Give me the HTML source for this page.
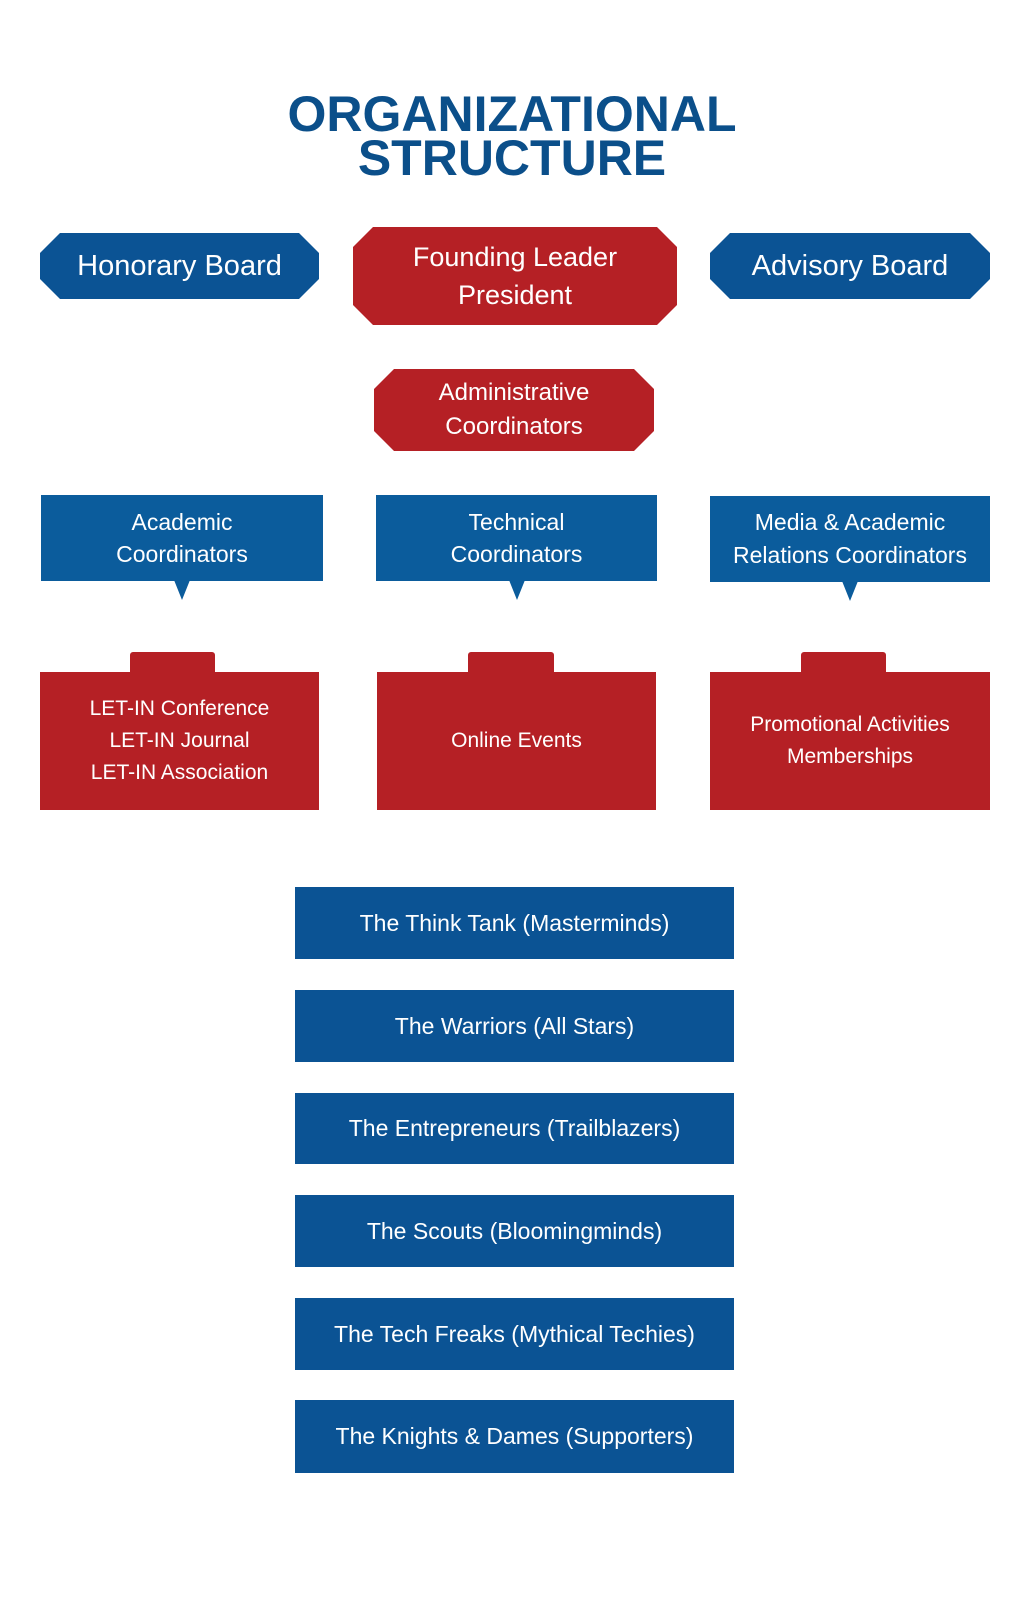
<!DOCTYPE html>
<html><head><meta charset="utf-8"><style>
body{margin:0;width:1024px;height:1600px;background:#fff;font-family:"Liberation Sans",sans-serif;position:relative;overflow:hidden}
.a{position:absolute;display:flex;align-items:center;justify-content:center;text-align:center;color:#fff}
.b{background:#0b5394}.r{background:#b52025}
.oct{clip-path:polygon(20px 0,calc(100% - 20px) 0,100% 20px,100% calc(100% - 20px),calc(100% - 20px) 100%,20px 100%,0 calc(100% - 20px),0 20px)}
.t{position:absolute;width:0;height:0;border-left:8px solid transparent;border-right:8px solid transparent;border-top:20px solid #0b5c9c}
.tab{position:absolute;background:#b52025;border-radius:3px 3px 0 0}
</style></head><body>
<div class="a" style="left:0;width:1024px;top:86px;height:100px;color:#0b4f8a;font-weight:bold;font-size:50px;line-height:44px;flex-direction:column">ORGANIZATIONAL<br>STRUCTURE</div>
<div class="a b oct" style="left:40px;top:233px;width:279px;height:66px;font-size:29px">Honorary Board</div>
<div class="a r oct" style="left:353px;top:227px;width:324px;height:98px;font-size:27px;line-height:38px">Founding Leader<br>President</div>
<div class="a b oct" style="left:710px;top:233px;width:280px;height:66px;font-size:29px">Advisory Board</div>
<div class="a r oct" style="left:374px;top:369px;width:280px;height:82px;font-size:24px;line-height:34px">Administrative<br>Coordinators</div>
<div class="a" style="left:41px;top:495px;width:282px;height:86px;background:#0b5c9c;font-size:23px;line-height:32px">Academic<br>Coordinators</div>
<div class="t" style="left:174px;top:580px"></div>
<div class="a" style="left:376px;top:495px;width:281px;height:86px;background:#0b5c9c;font-size:23px;line-height:32px">Technical<br>Coordinators</div>
<div class="t" style="left:509px;top:580px"></div>
<div class="a" style="left:710px;top:496px;width:280px;height:86px;background:#0b5c9c;font-size:23px;line-height:33px">Media &amp; Academic<br>Relations Coordinators</div>
<div class="t" style="left:842px;top:581px"></div>
<div class="tab" style="left:130px;top:652px;width:85px;height:22px"></div>
<div class="a r" style="left:40px;top:672px;width:279px;height:138px;font-size:21px;line-height:32px">LET-IN Conference<br>LET-IN Journal<br>LET-IN Association</div>
<div class="tab" style="left:468px;top:652px;width:86px;height:22px"></div>
<div class="a r" style="left:377px;top:672px;width:279px;height:138px;font-size:21px">Online Events</div>
<div class="tab" style="left:801px;top:652px;width:85px;height:22px"></div>
<div class="a r" style="left:710px;top:672px;width:280px;height:138px;font-size:21px;line-height:32px">Promotional Activities<br>Memberships</div>
<div class="a b" style="left:295px;top:887px;width:439px;height:72px;font-size:23px">The Think Tank (Masterminds)</div>
<div class="a b" style="left:295px;top:990px;width:439px;height:72px;font-size:23px">The Warriors (All Stars)</div>
<div class="a b" style="left:295px;top:1093px;width:439px;height:71px;font-size:23px">The Entrepreneurs (Trailblazers)</div>
<div class="a b" style="left:295px;top:1195px;width:439px;height:72px;font-size:23px">The Scouts (Bloomingminds)</div>
<div class="a b" style="left:295px;top:1298px;width:439px;height:72px;font-size:23px">The Tech Freaks (Mythical Techies)</div>
<div class="a b" style="left:295px;top:1400px;width:439px;height:73px;font-size:23px">The Knights &amp; Dames (Supporters)</div>
</body></html>
